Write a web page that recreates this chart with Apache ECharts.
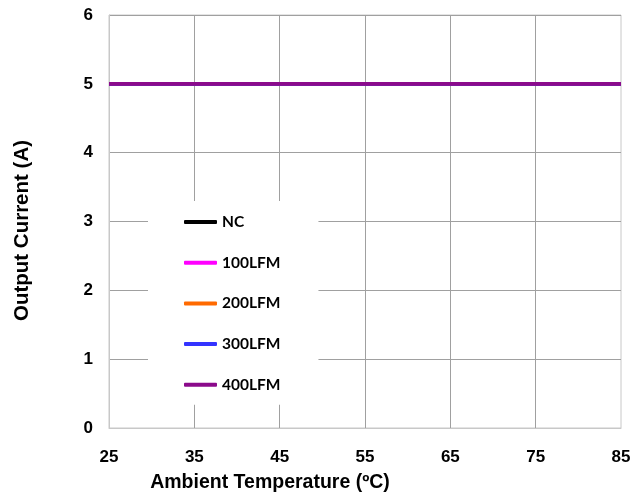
<!DOCTYPE html>
<html>
<head>
<meta charset="utf-8">
<script src="https://cdn.jsdelivr.net/npm/echarts@6/dist/echarts.min.js"></script>
<style>html,body{margin:0;padding:0;background:#fff;}#c{width:632px;height:493px;}</style>
</head>
<body>
<div id="c"></div>
<script>
const temps = [25, 35, 45, 55, 65, 75, 85];
const seriesNames = ['NC', '100LFM', '200LFM', '300LFM', '400LFM'];
const nc = [5, 5, 5, 5, 5, 5, 5];
const lfm100 = [5, 5, 5, 5, 5, 5, 5];
const lfm200 = [5, 5, 5, 5, 5, 5, 5];
const lfm300 = [5, 5, 5, 5, 5, 5, 5];
const lfm400 = [5, 5, 5, 5, 5, 5, 5];
const colors = ['#000000', '#ff00ff', '#ff6a00', '#3333ff', '#8b0a8b'];
const values = [nc, lfm100, lfm200, lfm300, lfm400];

const chart = echarts.init(document.getElementById('c'));
const axisFont = { fontFamily: 'Liberation Sans, Arial, sans-serif', fontWeight: 'bold', fontSize: 17, color: '#000' };
chart.setOption({
  animation: false,
  backgroundColor: '#fff',
  color: colors,
  grid: { left: 109, right: 11, top: 15, bottom: 65, show: true, borderColor: '#c8c8c8', borderWidth: 1, containLabel: false, outerBoundsMode: 'none' },
  xAxis: {
    type: 'value', min: 25, max: 85, interval: 10,
    name: 'Ambient Temperature (ºC)', nameLocation: 'middle', nameGap: 45,
    nameTextStyle: Object.assign({}, axisFont, { fontSize: 19.5, padding: [0, 190, 0, 0] }),
    axisLine: { show: true, lineStyle: { color: '#c8c8c8', width: 1 } },
    axisTick: { show: false },
    axisLabel: Object.assign({}, axisFont, { margin: 21 }),
    splitLine: { show: true, showMinLine: false, showMaxLine: false, lineStyle: { color: '#a0a0a0', width: 1 } }
  },
  yAxis: {
    type: 'value', min: 0, max: 6, interval: 1,
    name: 'Output Current (A)', nameLocation: 'middle', nameGap: 76,
    nameTextStyle: Object.assign({}, axisFont, { fontSize: 20.5, padding: [0, 18, 0, 0] }),
    axisLine: { show: true, lineStyle: { color: '#c8c8c8', width: 1 } },
    axisTick: { show: false },
    axisLabel: Object.assign({}, axisFont, { margin: 16 }),
    splitLine: { show: true, showMinLine: false, showMaxLine: true, lineStyle: { color: '#a0a0a0', width: 1 } }
  },
  legend: {
    orient: 'vertical', left: 148, top: 201,
    backgroundColor: '#ffffff',
    padding: [13, 38, 12, 36],
    itemGap: 24.7, itemWidth: 33, itemHeight: 4,
    icon: 'roundRect',
    textStyle: { fontFamily: 'Lato, DejaVu Sans, sans-serif', fontWeight: 'bold', fontSize: 15.5, color: '#000' },
    data: seriesNames
  },
  series: seriesNames.map((n, i) => ({
    name: n, type: 'line', symbol: 'none',
    data: temps.map((t, j) => [t, values[i][j]]),
    lineStyle: { width: 3.7, color: colors[i] },
    itemStyle: { color: colors[i] }
  }))
});
</script>
</body>
</html>
